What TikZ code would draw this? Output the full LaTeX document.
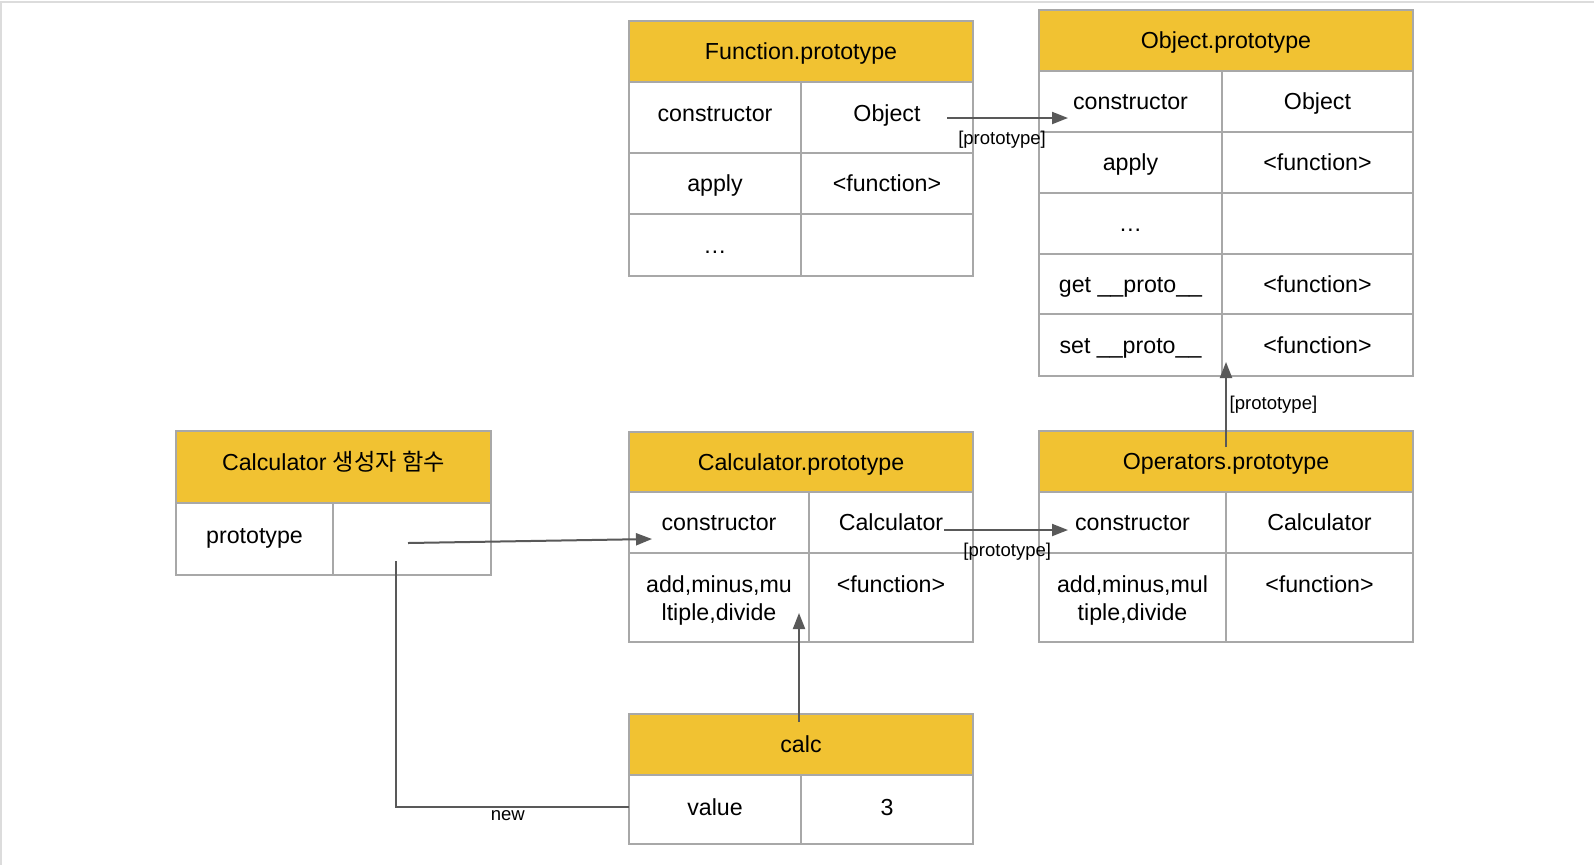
\documentclass[tikz,border=0pt]{standalone}
\usepackage{fontspec}
\setmainfont{Liberation Sans}
\newfontfamily\krfont{Noto Sans CJK KR}
\usetikzlibrary{arrows.meta,calc}
\definecolor{hdrY}{RGB}{241,194,50}
\definecolor{bordG}{RGB}{168,168,168}
\definecolor{lineG}{RGB}{89,89,89}
\definecolor{frameG}{RGB}{220,220,220}
\newcommand\tcell[7]{%
  \pgfmathsetmacro\tcw{(#5-#3)*0.75}%
  \pgfmathsetmacro\tch{(#6-#4)*0.75}%
  \node[#1, minimum width=\tcw pt, minimum height=\tch pt] (#2) at ({(#3+#5)/2},{(#4+#6)/2}) {#7};}
\tikzset{
  tbox/.style={draw=bordG, line width=1.5pt, inner sep=0pt, outer sep=0pt,
    font=\fontsize{17.4}{21}\selectfont, text=black, align=center,
    text height=12.5pt, text depth=0pt},
  hdrcell/.style={tbox, fill=hdrY},
  datcell/.style={tbox, fill=white},
  toptext/.style={anchor=north, yshift=-17pt, align=center, inner sep=0pt,
    font=\fontsize{17.4}{20.5}\selectfont, text=black},
  conn/.style={draw=lineG, line width=1.5pt},
  arr/.style={conn, -{Triangle[length=12pt,width=9pt]}},
  lbl/.style={font=\fontsize{13.9}{16}\selectfont, text=black, inner sep=1pt},
}
\begin{document}
\begin{tikzpicture}[x=0.75pt, y=-0.75pt]
\path[use as bounding box, fill=white] (0,0) rectangle (1594,865);
\draw[frameG, line width=1.5pt] (0,2) -- (1594,2);
\draw[frameG, line width=1.5pt] (1,2) -- (1,865);

% Function.prototype
\tcell{hdrcell}{fphdr}{629}{21}{973}{82}{Function.prototype}
\tcell{datcell}{fpr1c1}{629}{82}{801}{153}{\raisebox{3pt}{constructor}}
\tcell{datcell}{fpr1c2}{801}{82}{973}{153}{\raisebox{3pt}{Object}}
\tcell{datcell}{fpr2c1}{629}{153}{801}{214}{apply}
\tcell{datcell}{fpr2c2}{801}{153}{973}{214}{<function>}
\tcell{datcell}{fpr3c1}{629}{214}{801}{276}{…}
\tcell{datcell}{fpr3c2}{801}{214}{973}{276}{}

% Object.prototype
\tcell{hdrcell}{ophdr}{1039}{10}{1413}{71}{Object.prototype}
\tcell{datcell}{opr1c1}{1039}{71}{1222}{132}{constructor}
\tcell{datcell}{opr1c2}{1222}{71}{1413}{132}{Object}
\tcell{datcell}{opr2c1}{1039}{132}{1222}{193}{apply}
\tcell{datcell}{opr2c2}{1222}{132}{1413}{193}{<function>}
\tcell{datcell}{opr3c1}{1039}{193}{1222}{254}{…}
\tcell{datcell}{opr3c2}{1222}{193}{1413}{254}{}
\tcell{datcell}{opr4c1}{1039}{254}{1222}{314}{get \_\_proto\_\_}
\tcell{datcell}{opr4c2}{1222}{254}{1413}{314}{<function>}
\tcell{datcell}{opr5c1}{1039}{314}{1222}{376}{set \_\_proto\_\_}
\tcell{datcell}{opr5c2}{1222}{314}{1413}{376}{<function>}

% Calculator constructor function
\tcell{hdrcell}{cfhdr}{176}{431}{491}{503}{\raisebox{4pt}{Calculator {\krfont 생성자 함수}}}
\tcell{datcell}{cfr1c1}{176}{503}{333}{575}{\raisebox{3pt}{prototype}}
\tcell{datcell}{cfr1c2}{333}{503}{491}{575}{}

% Calculator.prototype
\tcell{hdrcell}{cphdr}{629}{432}{973}{492}{Calculator.prototype}
\tcell{datcell}{cpr1c1}{629}{492}{809}{553}{constructor}
\tcell{datcell}{cpr1c2}{809}{492}{973}{553}{Calculator}
\tcell{datcell, label={[toptext]north:{add,minus,mu\\ltiple,divide}}}{cpr2c1}{629}{553}{809}{642}{}
\tcell{datcell, label={[toptext]north:{<function>}}}{cpr2c2}{809}{553}{973}{642}{}

% Operators.prototype
\tcell{hdrcell}{opphdr}{1039}{431}{1413}{492}{Operators.prototype}
\tcell{datcell}{oppr1c1}{1039}{492}{1226}{553}{constructor}
\tcell{datcell}{oppr1c2}{1226}{492}{1413}{553}{Calculator}
\tcell{datcell, label={[toptext]north:{add,minus,mul\\tiple,divide}}}{oppr2c1}{1039}{553}{1226}{642}{}
\tcell{datcell, label={[toptext]north:{<function>}}}{oppr2c2}{1226}{553}{1413}{642}{}

% calc
\tcell{hdrcell}{calchdr}{629}{714}{973}{775}{calc}
\tcell{datcell}{calcr1c1}{629}{775}{801}{844}{\raisebox{2pt}{value}}
\tcell{datcell}{calcr1c2}{801}{775}{973}{844}{\raisebox{2pt}{3}}

% connectors
\coordinate (a1s) at ($(fpr1c2.center)+(60,0.5)$);
\coordinate (a1e) at ($(opr1c1.west |- a1s)+(29,0)$);
\draw[arr] (a1s) -- (a1e) node[lbl, pos=0.455, below=8pt] {[prototype]};

\coordinate (a2s) at ($(cfr1c2.center)+(-4,4)$);
\coordinate (a2e) at ($(cpr1c1.west)+(23,16.5)$);
\draw[arr] (a2s) -- (a2e);

\coordinate (a3s) at ($(cfr1c2.center)+(-16,22)$);
\coordinate (a3e) at ($(calcr1c1.west)+(0,-2.5)$);
\draw[conn] (a3s) |- (a3e) node[lbl, pos=0.74, below=1pt] {new};

\coordinate (a4s) at ($(calchdr.north)+(-2,8)$);
\coordinate (a4t) at ($(cpr2c1.south)+(0,-29)$);
\draw[arr] (a4s) -- (a4s |- a4t);

\coordinate (a5s) at ($(cpr1c2.center)+(53,7.5)$);
\coordinate (a5e) at ($(oppr1c1.west |- a5s)+(29,0)$);
\draw[arr] (a5s) -- (a5e) node[lbl, pos=0.51, below=8pt] {[prototype]};

\coordinate (a6s) at ($(opphdr.north)+(0,16)$);
\coordinate (a6t) at ($(opr5c1.south)+(0,-14)$);
\draw[arr] (a6s) -- (a6s |- a6t) node[lbl, midway, right=1pt] {[prototype]};
\end{tikzpicture}
\end{document}
